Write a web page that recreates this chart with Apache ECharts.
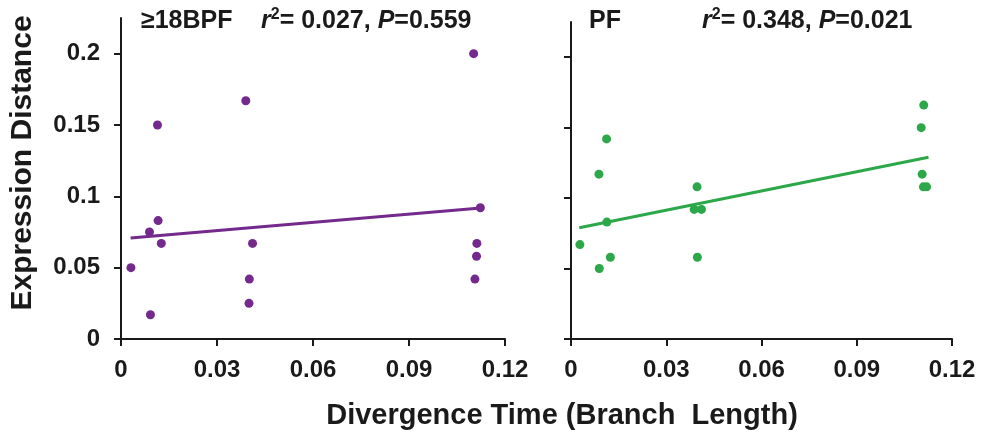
<!DOCTYPE html>
<html>
<head>
<meta charset="utf-8">
<script src="https://cdn.jsdelivr.net/npm/echarts@6/dist/echarts.min.js"></script>
<style>
html,body{margin:0;padding:0;background:#fff;}
#chart{width:982px;height:439px;}
</style>
</head>
<body>
<div id="chart"></div>
<script>
// ---- data ----
var xTicks = [0, 0.03, 0.06, 0.09, 0.12];
var yTicks = [0, 0.05, 0.1, 0.15, 0.2];

var bpfX = [0.1102, 0.0390, 0.0114, 0.1123, 0.0116, 0.0089, 0.0126, 0.0031, 0.0092, 0.0411, 0.0401, 0.0400, 0.1112, 0.1111, 0.1106];
var bpfY = [0.200, 0.167, 0.150, 0.092, 0.083, 0.075, 0.067, 0.050, 0.017, 0.067, 0.042, 0.025, 0.067, 0.058, 0.042];
var bpfFitX = [0.0030, 0.1133];
var bpfFitY = [0.0708, 0.0920];

var pfX = [0.1111, 0.1103, 0.0112, 0.0088, 0.0397, 0.1106, 0.1110, 0.1120, 0.0388, 0.0411, 0.0113, 0.0028, 0.0124, 0.0089, 0.0398];
var pfY = [0.166, 0.150, 0.142, 0.117, 0.108, 0.117, 0.108, 0.108, 0.092, 0.092, 0.083, 0.067, 0.058, 0.050, 0.058];
var pfFitX = [0.0026, 0.1126];
var pfFitY = [0.0790, 0.1290];

var bpfLabel = '≥18BPF';
var bpfR2 = '0.027', bpfP = '0.559';
var pfLabel = 'PF';
var pfR2 = '0.348', pfP = '0.021';
var xTitle = 'Divergence Time (Branch  Length)';
var yTitle = 'Expression Distance';

var purple = '#732a8c';
var green = '#2ca84a';
var ink = '#1a1a1a';
var FONT = '"Liberation Sans", Arial, sans-serif';

function zip(a, b) { return a.map(function (v, i) { return [v, b[i]]; }); }

function xAxisCfg(idx) {
  return {
    type: 'value', gridIndex: idx, min: 0, max: 0.12, interval: 0.03,
    splitLine: {show: false},
    axisLine: {show: true, onZero: false, lineStyle: {color: ink, width: 2}},
    axisTick: {show: true, inside: false, length: 7, lineStyle: {color: ink, width: 2}, customValues: xTicks},
    axisLabel: {show: true, customValues: xTicks, margin: 19, color: ink, fontSize: 24, fontWeight: 'bold', fontFamily: FONT,
      formatter: function (v) { return String(+v.toFixed(2)); }}
  };
}
function yAxisCfg(idx, showLabels) {
  return {
    type: 'value', gridIndex: idx, min: 0, max: 0.225, interval: 0.05,
    splitLine: {show: false},
    axisLine: {show: true, onZero: false, lineStyle: {color: ink, width: 2}},
    axisTick: {show: true, inside: false, length: 7, lineStyle: {color: ink, width: 2}, customValues: yTicks},
    axisLabel: {show: showLabels, customValues: yTicks, margin: 21, color: ink, fontSize: 24, fontWeight: 'bold', fontFamily: FONT,
      formatter: function (v) { return String(+v.toFixed(2)); }}
  };
}

function statText(r2, p) {
  return '{i|r}{s|2}{n|= ' + r2 + ', }{i|P}{n|=' + p + '}';
}
var richStyle = {
  n: {fontSize: 25, fontWeight: 'bold', fontFamily: FONT, fill: ink, lineHeight: 29},
  i: {fontSize: 25, fontWeight: 'bold', fontStyle: 'italic', fontFamily: FONT, fill: ink, lineHeight: 29},
  s: {fontSize: 16, fontWeight: 'bold', fontFamily: FONT, fill: ink, lineHeight: 29, verticalAlign: 'top'}
};

var chart = echarts.init(document.getElementById('chart'), null, {renderer: 'canvas'});
chart.setOption({
  backgroundColor: '#ffffff',
  animation: false,
  grid: [
    {left: 121, top: 18, width: 384, height: 321},
    {left: 571, top: 22, width: 381, height: 317}
  ],
  xAxis: [xAxisCfg(0), xAxisCfg(1)],
  yAxis: [yAxisCfg(0, true), yAxisCfg(1, false)],
  series: [
    {type: 'scatter', xAxisIndex: 0, yAxisIndex: 0, data: zip(bpfX, bpfY), symbolSize: 9, itemStyle: {color: purple, opacity: 1}},
    {type: 'line', xAxisIndex: 0, yAxisIndex: 0, data: zip(bpfFitX, bpfFitY), showSymbol: false, lineStyle: {color: purple, width: 3}},
    {type: 'scatter', xAxisIndex: 1, yAxisIndex: 1, data: zip(pfX, pfY), symbolSize: 9, itemStyle: {color: green, opacity: 1}},
    {type: 'line', xAxisIndex: 1, yAxisIndex: 1, data: zip(pfFitX, pfFitY), showSymbol: false, lineStyle: {color: green, width: 3}}
  ],
  graphic: [
    {type: 'text', left: 141, top: 9, style: {text: bpfLabel, font: 'bold 25px ' + FONT, fill: ink}},
    {type: 'text', left: 261, top: 7, style: {text: statText(bpfR2, bpfP), rich: richStyle}},
    {type: 'text', left: 589, top: 9, style: {text: pfLabel, font: 'bold 25px ' + FONT, fill: ink}},
    {type: 'text', left: 702, top: 7, style: {text: statText(pfR2, pfP), rich: richStyle}},
    {type: 'text', x: 562, y: 416, style: {text: xTitle, font: 'bold 29px ' + FONT, fill: ink, align: 'center', verticalAlign: 'middle'}},
    {type: 'text', x: 23, y: 163, rotation: Math.PI / 2, style: {text: yTitle, font: 'bold 30px ' + FONT, fill: ink, align: 'center', verticalAlign: 'middle'}}
  ]
});
</script>
</body>
</html>
